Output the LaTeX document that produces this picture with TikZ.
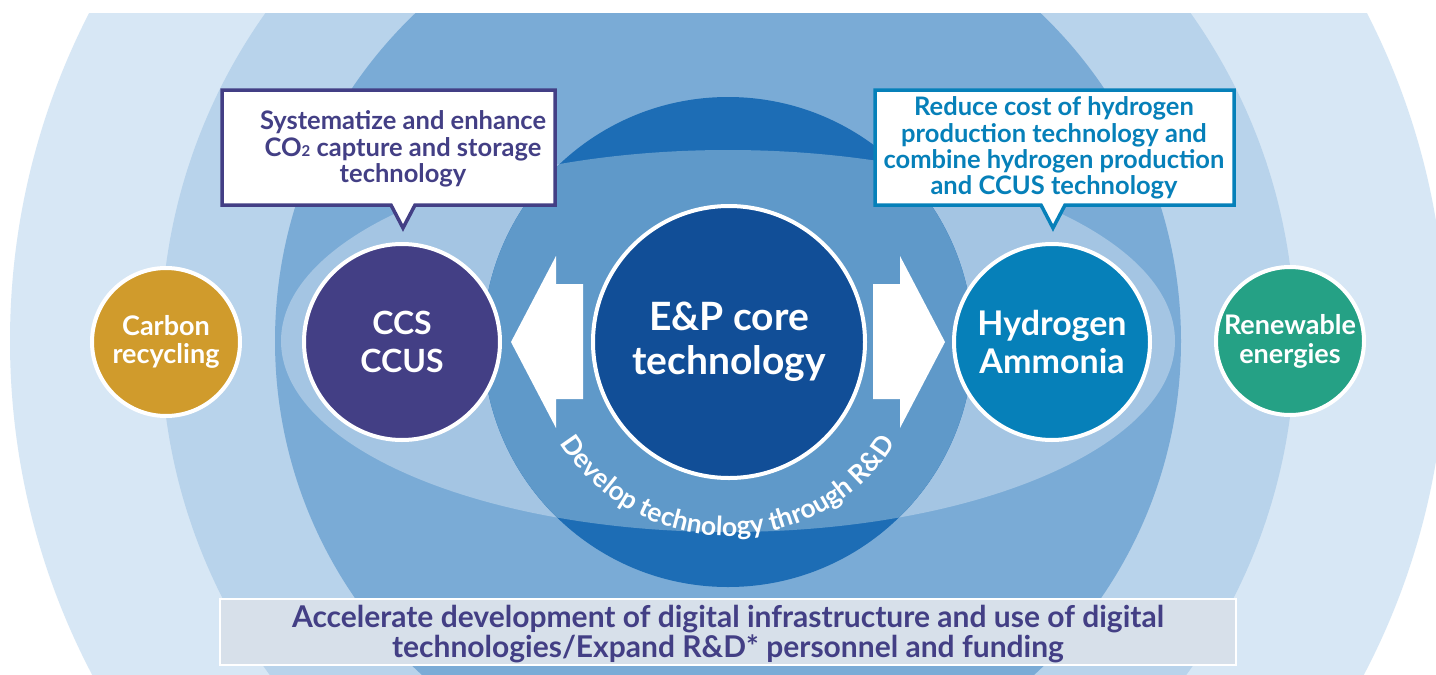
\documentclass[tikz,border=0pt]{standalone}
\usepackage{fontspec}
\setmainfont{Lato}
\usetikzlibrary{decorations.text}

\definecolor{ringA}{HTML}{D7E7F5}
\definecolor{ringB}{HTML}{B8D3EB}
\definecolor{ringC}{HTML}{7AABD6}
\definecolor{lensfill}{HTML}{A4C5E3}
\definecolor{coredark}{HTML}{1D6DB5}
\definecolor{coremid}{HTML}{5F99C9}
\definecolor{epblue}{HTML}{114E97}
\definecolor{ccspurple}{HTML}{433F85}
\definecolor{htwoblue}{HTML}{0680B9}
\definecolor{carbongold}{HTML}{D09B2C}
\definecolor{renewgreen}{HTML}{25A185}
\definecolor{basebox}{HTML}{D7E0EA}

\newcommand\rdfont{\bfseries\fontsize{26.5}{26.5}\selectfont}

\begin{document}
\begin{tikzpicture}[
    x=1pt, y=-1pt,
    disc/.style={circle, draw=white, line width=4pt, text=white, align=center, inner sep=0pt},
    bubble/.style={draw, line width=3.5pt, fill=white, line join=miter},
    note/.style={align=center, font=\bfseries\fontsize{25.5}{26.3}\selectfont},
    blockarrow/.style={fill=white}
]
\useasboundingbox (0,0) rectangle (1436,675);
\fill[white] (0,0) rectangle (1436,675);

% background rings
\begin{scope}
\clip (0,13) rectangle (1436,675);
\fill[ringA] (728,341) circle (718);
\fill[ringB] (728,341) circle (567);
\fill[ringC] (728,341) circle (453);
\fill[lensfill] (728,341) ellipse [x radius=447, y radius=191];
\fill[coredark] (728,342) circle (245);
\begin{scope}
\clip (728,341) ellipse [x radius=447, y radius=191];
\fill[coremid] (728,342) circle (245);
\end{scope}
\end{scope}

% curved caption
\path[decorate, decoration={text along path, text align=center, text color=white,
    text={|\rdfont|Develop technology through R{\&}D}}]
    (728,338) ++(154:198) arc[start angle=154, end angle=26, radius=198];

% circles
\node[disc, fill=epblue, minimum size=272, font=\bfseries\fontsize{39}{44}\selectfont] (core) at (729,342) {E\&P core\\technology};
\node[disc, fill=ccspurple, minimum size=196, font=\bfseries\fontsize{32}{38}\selectfont] (ccs) at (402,342) {CCS\\CCUS};
\node[disc, fill=htwoblue, minimum size=196, font=\bfseries\fontsize{34}{38}\selectfont] (hydro) at (1052,342) {Hydrogen\\Ammonia};
\node[disc, fill=carbongold, minimum size=148, font=\bfseries\fontsize{27}{28}\selectfont] (carbon) at (166,342) {Carbon\\recycling};
\node[disc, fill=renewgreen, minimum size=148, font=\bfseries\fontsize{27}{29}\selectfont] (renew) at (1290,341) {Renewable\\energies};

% block arrows
\fill[blockarrow] (511,342) -- (556,256) -- (556,284) -- (583,284) -- (583,399) -- (556,399) -- (556,428) -- cycle;
\fill[blockarrow] (945,342) -- (900,256) -- (900,284) -- (873,284) -- (873,399) -- (900,399) -- (900,428) -- cycle;

% callouts
\draw[bubble, draw=ccspurple] (222,90) -- (555,90) -- (555,205) -- (415,205) -- (403,228) -- (391,205) -- (222,205) -- cycle;
\node[note, text=ccspurple] (ccsnote) at (403,149) {Systematize and enhance\\CO{\fontsize{15}{15}\selectfont 2} capture and storage\\technology};

\draw[bubble, draw=htwoblue] (875,90) -- (1234,90) -- (1234,205) -- (1065,205) -- (1053,228) -- (1041,205) -- (875,205) -- cycle;
\node[note, text=htwoblue] (hydronote) at (1054,148) {Reduce cost of hydrogen\\production technology and\\combine hydrogen production\\and CCUS technology};

% bottom banner
\node[draw=white, line width=1.5pt, fill=basebox, minimum width=1016, minimum height=66] (digital) at (728,632) {};
\node[text=ccspurple, align=center, font=\bfseries\fontsize{30}{27.5}\selectfont] (digitaltext) at (728,634)
  {Accelerate development of digital infrastructure and use of digital\\technologies/Expand R\&D* personnel and funding};
\end{tikzpicture}
\end{document}
